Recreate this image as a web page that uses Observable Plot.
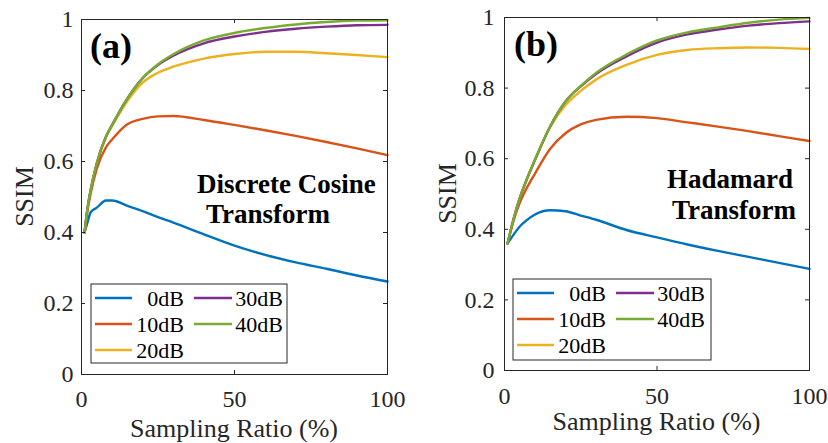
<!DOCTYPE html>
<html><head><meta charset="utf-8">
<script src="https://cdn.jsdelivr.net/npm/d3@7"></script>
<script src="https://cdn.jsdelivr.net/npm/@observablehq/plot@0.6"></script>
<style>
html,body{margin:0;padding:0;background:#fff;}
#wrap{display:flex;width:828px;height:443px;overflow:hidden;}
</style></head><body><div id="wrap"></div>
<script>
const series = ["0dB", "10dB", "20dB", "30dB", "40dB"];
const colors = ["#0072BD", "#D95319", "#EDB120", "#7E2F8E", "#77AC30"];
const xTicks = [0, 50, 100];
const yTicks = [0, 0.2, 0.4, 0.6, 0.8, 1];
const xLabel = "Sampling Ratio (%)";
const yLabel = "SSIM";

// (a) Discrete Cosine Transform
const dctX      = [1, 2, 3, 5, 8, 10, 15, 20, 25, 30, 40, 50, 60, 70, 80, 90, 100];
const dct_0dB   = [0.40, 0.43, 0.457, 0.47, 0.49, 0.49, 0.475, 0.46, 0.443, 0.428, 0.395, 0.363, 0.337, 0.316, 0.298, 0.279, 0.262];
const dct_10dB  = [0.40, 0.465, 0.51, 0.58, 0.64, 0.662, 0.705, 0.72, 0.727, 0.728, 0.717, 0.703, 0.688, 0.672, 0.655, 0.637, 0.618];
const dct_20dB  = [0.40, 0.47, 0.52, 0.595, 0.67, 0.70, 0.77, 0.822, 0.85, 0.867, 0.89, 0.903, 0.909, 0.909, 0.905, 0.90, 0.894];
const dct_30dB  = [0.40, 0.47, 0.52, 0.595, 0.67, 0.703, 0.778, 0.835, 0.872, 0.898, 0.933, 0.952, 0.965, 0.974, 0.980, 0.984, 0.985];
const dct_40dB  = [0.40, 0.47, 0.52, 0.595, 0.67, 0.703, 0.778, 0.835, 0.874, 0.902, 0.941, 0.962, 0.976, 0.986, 0.993, 0.997, 0.998];

// (b) Hadamard Transform
const hadX      = [1, 3, 5, 7, 10, 15, 20, 25, 30, 40, 50, 60, 70, 80, 90, 100];
const had_0dB   = [0.36, 0.385, 0.408, 0.424, 0.442, 0.454, 0.451, 0.439, 0.427, 0.398, 0.377, 0.357, 0.339, 0.322, 0.305, 0.288];
const had_10dB  = [0.36, 0.425, 0.475, 0.512, 0.558, 0.628, 0.672, 0.697, 0.71, 0.719, 0.715, 0.703, 0.691, 0.678, 0.664, 0.65];
const had_20dB  = [0.36, 0.43, 0.488, 0.535, 0.597, 0.69, 0.752, 0.792, 0.824, 0.866, 0.894, 0.908, 0.913, 0.915, 0.914, 0.911];
const had_30dB  = [0.36, 0.43, 0.488, 0.535, 0.597, 0.692, 0.762, 0.805, 0.84, 0.89, 0.929, 0.952, 0.966, 0.977, 0.984, 0.989];
const had_40dB  = [0.36, 0.43, 0.488, 0.535, 0.597, 0.692, 0.762, 0.806, 0.843, 0.895, 0.935, 0.958, 0.972, 0.985, 0.994, 0.999];

function table(xs, arrays) {
  const out = [];
  arrays.forEach((arr, i) => arr.forEach((v, j) => out.push({s: series[i], x: xs[j], y: v})));
  return out;
}

const FONT = "'Liberation Serif','Times New Roman',Times,serif";
const INK = "#262626";

function panel(cfg) {
  const W = 414, H = 443;
  const {ml, mr, mt, mb} = cfg;
  const iw = W - ml - mr, ih = H - mt - mb, tk = 4;
  const svg = Plot.plot({
    width: W, height: H,
    marginLeft: ml, marginRight: mr, marginTop: mt, marginBottom: mb,
    style: {fontFamily: FONT, fontSize: "24px", color: INK, background: "#fff"},
    x: {domain: [0, 100]},
    y: {domain: [0, 1]},
    color: {domain: series, range: colors},
    marks: [
      Plot.axisX({ticks: xTicks, tickSize: 0, tickPadding: cfg.xPad, fontSize: 24, label: null, tickFormat: d => String(d)}),
      Plot.axisY({ticks: yTicks, tickSize: 0, tickPadding: cfg.yPad, fontSize: 24, label: null, tickFormat: d => String(d)}),
      Plot.line(cfg.data, {x: "x", y: "y", z: "s", stroke: "s", strokeWidth: 2.4, curve: "monotone-x"}),
      Plot.tickX(xTicks, {x: d => d, insetTop: ih - tk, stroke: INK}),
      Plot.tickX(xTicks, {x: d => d, insetBottom: ih - tk, stroke: INK}),
      Plot.tickY(yTicks, {y: d => d, insetRight: iw - tk, stroke: INK}),
      Plot.tickY(yTicks, {y: d => d, insetLeft: iw - tk, stroke: INK}),
      Plot.frame({stroke: INK, strokeWidth: 1})
    ]
  });
  const g = d3.select(svg).append("g").attr("font-family", FONT).attr("fill", "#000").attr("text-anchor", "start");
  // axis labels
  g.append("text").attr("x", ml + iw / 2).attr("y", cfg.xlabBase).attr("text-anchor", "middle")
    .attr("font-size", 26).attr("fill", INK).text(xLabel);
  g.append("text").attr("transform", `translate(${cfg.ylabX},${mt + ih / 2}) rotate(-90)`)
    .attr("text-anchor", "middle").attr("font-size", 26).attr("fill", INK).text(yLabel);
  // panel tag
  g.append("text").attr("x", cfg.tagX).attr("y", cfg.tagBase).attr("font-size", 36)
    .attr("font-weight", "bold").attr("text-anchor", "start").text(cfg.tag);
  // notes
  cfg.notes.forEach(n => g.append("text").attr("x", n[1]).attr("y", n[2]).attr("font-size", 27)
    .attr("font-weight", "bold").attr("text-anchor", "start").text(n[0]));
  // legend
  const L = cfg.legend;
  const lg = g.append("g").attr("transform", `translate(${L.x},${L.y})`);
  lg.append("rect").attr("width", L.w).attr("height", L.h).attr("fill", "#fff").attr("stroke", INK).attr("stroke-width", 1);
  const rowsY = [14, 40, 66];
  const cols = [{l0: 4, l1: 41, te: 93, items: [0, 1, 2]}, {l0: 103, l1: 141, te: 192, items: [3, 4]}];
  cols.forEach(c => c.items.forEach((si, r) => {
    lg.append("line").attr("x1", c.l0).attr("x2", c.l1).attr("y1", rowsY[r]).attr("y2", rowsY[r])
      .attr("stroke", colors[si]).attr("stroke-width", 2.4);
    lg.append("text").attr("x", c.te).attr("y", rowsY[r] + 8).attr("text-anchor", "end")
      .attr("font-size", 22).attr("fill", "#000").text(series[si]);
  }));
  return svg;
}

const wrap = document.getElementById("wrap");
wrap.appendChild(panel({
  data: table(dctX, [dct_0dB, dct_10dB, dct_20dB, dct_30dB, dct_40dB]),
  ml: 81, mr: 27, mt: 19, mb: 69, xPad: 15, yPad: 8,
  xlabBase: 437, ylabX: 33,
  tag: "(a)", tagX: 90, tagBase: 58,
  notes: [["Discrete Cosine", 197, 193], ["Transform", 206, 223]],
  legend: {x: 91, y: 284, w: 196, h: 79}
}));
wrap.appendChild(panel({
  data: table(hadX, [had_0dB, had_10dB, had_20dB, had_30dB, had_40dB]),
  ml: 90, mr: 19, mt: 17, mb: 73, xPad: 16, yPad: 10,
  xlabBase: 430, ylabX: 42,
  tag: "(b)", tagX: 100, tagBase: 56,
  notes: [["Hadamard", 253, 188], ["Transform", 258, 219]],
  legend: {x: 99, y: 279, w: 198, h: 81}
}));
</script></body></html>
